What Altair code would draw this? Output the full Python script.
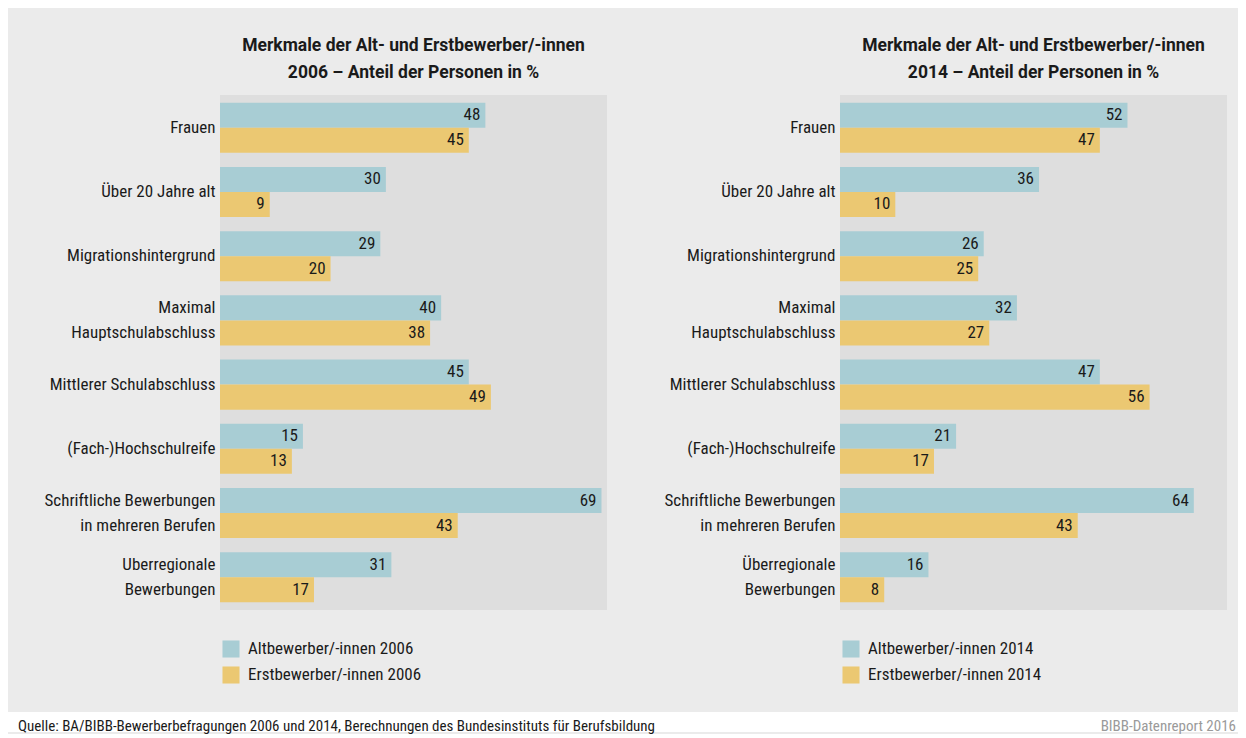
import altair as alt
import pandas as pd

FONT = "Liberation Sans Narrow, Roboto Condensed, DejaVu Sans Condensed, Liberation Sans, sans-serif"
TITLE_FONT = "Roboto, Liberation Sans, sans-serif"
TEAL = "#a8cdd4"
YELLOW = "#ebc872"
TXT = "#1a1a1a"
AXIS_W = 212

categories_2006 = ["Frauen", "Über 20 Jahre alt", "Migrationshintergrund",
                   "Maximal|Hauptschulabschluss", "Mittlerer Schulabschluss",
                   "(Fach-)Hochschulreife", "Schriftliche Bewerbungen|in mehreren Berufen",
                   "Uberregionale|Bewerbungen"]
categories_2014 = ["Frauen", "Über 20 Jahre alt", "Migrationshintergrund",
                   "Maximal|Hauptschulabschluss", "Mittlerer Schulabschluss",
                   "(Fach-)Hochschulreife", "Schriftliche Bewerbungen|in mehreren Berufen",
                   "Überregionale|Bewerbungen"]

alt_2006 = [48, 30, 29, 40, 45, 15, 69, 31]
erst_2006 = [45, 9, 20, 38, 49, 13, 43, 17]
alt_2014 = [52, 36, 26, 32, 47, 21, 64, 16]
erst_2014 = [47, 10, 25, 27, 56, 17, 43, 8]

title_line1 = "Merkmale der Alt- und Erstbewerber/-innen"
title_line2 = "{} – Anteil der Personen in %"
source_text = "Quelle: BA/BIBB-Bewerberbefragungen 2006 und 2014, Berechnungen des Bundesinstituts für Berufsbildung"
report_text = "BIBB-Datenreport 2016"


def panel(cats, alt_vals, erst_vals, year):
    s1 = f"Altbewerber/-innen {year}"
    s2 = f"Erstbewerber/-innen {year}"
    df = pd.DataFrame({
        "cat": cats + cats,
        "series": [s1] * len(cats) + [s2] * len(cats),
        "value": alt_vals + erst_vals,
    })
    base = alt.Chart(df).encode(
        y=alt.Y("cat:N", sort=cats,
                scale=alt.Scale(type="band", paddingInner=0.22, paddingOuter=0.12),
                axis=alt.Axis(title=None, labelExpr="split(datum.label, '|')",
                              domain=False, ticks=False, labelPadding=5,
                              labelFontSize=17, labelColor=TXT, labelFont=FONT,
                              labelLineHeight=25, minExtent=AXIS_W, maxExtent=AXIS_W,
                              labelOffset={"condition": {"test": "indexof(datum.value, '|') >= 0",
                                                         "value": -12.5},
                                           "value": 0},
                              labelLimit=400)),
        yOffset=alt.YOffset("series:N", sort=[s1, s2],
                            scale=alt.Scale(type="band", paddingInner=0, paddingOuter=0)),
        x=alt.X("value:Q", scale=alt.Scale(domain=[0, 70], nice=False), axis=None),
    )
    bars = base.mark_bar().encode(
        color=alt.Color("series:N",
                        scale=alt.Scale(domain=[s1, s2], range=[TEAL, YELLOW]),
                        legend=alt.Legend(orient="none", legendX=2, legendY=545,
                                          direction="vertical", title=None,
                                          symbolType="square", symbolSize=290,
                                          symbolStrokeWidth=0, labelFontSize=17,
                                          labelFont=FONT, labelColor=TXT,
                                          labelLimit=400,
                                          rowPadding=8, labelOffset=8))
    )
    labels = base.mark_text(align="right", baseline="middle", dx=-5,
                            fontSize=17, font=FONT, color=TXT).encode(text="value:Q")
    return alt.layer(bars, labels).properties(
        width=387, height=515,
        view=alt.ViewBackground(fill="#dedede", stroke=None),
        title=alt.TitleParams([title_line1, title_line2.format(year)],
                              anchor="middle", frame="group", fontSize=17.5,
                              fontWeight="bold", font=TITLE_FONT, color=TXT,
                              lineHeight=27, offset=14),
    )


left = panel(categories_2006, alt_2006, erst_2006, 2006)
right = panel(categories_2014, alt_2014, erst_2014, 2014)

top = alt.hconcat(left, right, spacing=21).resolve_scale(
    color="independent", y="independent", yOffset="independent"
)

strip = alt.Chart(pd.DataFrame({"k": [0]})).mark_rect(color="white").encode(
    x=alt.value(-AXIS_W), x2=alt.value(1230 - AXIS_W), y=alt.value(0), y2=alt.value(20)
)
f1 = alt.Chart(pd.DataFrame({"t": [source_text]})).mark_text(
    align="left", baseline="middle", fontSize=15, font=FONT, color=TXT
).encode(text="t:N", x=alt.value(10 - AXIS_W), y=alt.value(14))
f2 = alt.Chart(pd.DataFrame({"t": [report_text]})).mark_text(
    align="right", baseline="middle", fontSize=15, font=FONT, color="#9a9a9a"
).encode(text="t:N", x=alt.value(1228 - AXIS_W), y=alt.value(14))
footer = alt.layer(strip, f1, f2).properties(
    width=1230 - AXIS_W, height=20, view=alt.ViewBackground(fill="white", stroke=None)
)

chart = alt.vconcat(top, footer, spacing=28).properties(
    padding={"left": 0, "right": 0, "top": 28, "bottom": 0},
    background="#ebebeb",
).configure_view(stroke=None)

chart.save("out.html", embed_options={"renderer": "svg", "actions": False})
